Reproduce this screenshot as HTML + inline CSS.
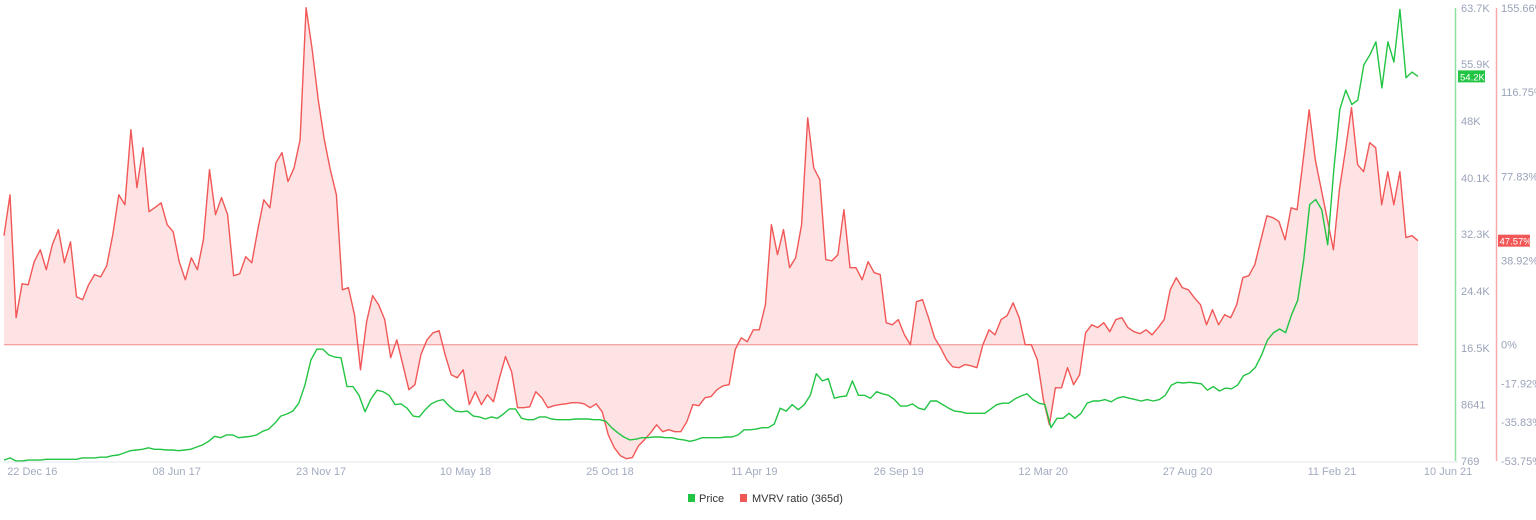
<!DOCTYPE html>
<html><head><meta charset="utf-8"><style>
html,body{margin:0;padding:0;background:#fff;width:1536px;height:520px;overflow:hidden;font-family:"Liberation Sans",sans-serif}
svg text{font-family:"Liberation Sans",sans-serif}
</style></head><body>
<svg id="chart" width="1536" height="520" xmlns="http://www.w3.org/2000/svg">
<g id="grid"></g><g id="plot"></g><g id="axes"></g><g id="legend"></g>
</svg>
<script>
const xTickLabels=["22 Dec 16","08 Jun 17","23 Nov 17","10 May 18","25 Oct 18","11 Apr 19","26 Sep 19","12 Mar 20","27 Aug 20","11 Feb 21","10 Jun 21"];
const xTickWeeks=[4.7,28.7,52.7,76.7,100.7,124.7,148.7,172.7,196.7,220.7,240];
const priceTicks=[769,8641,16500,24400,32300,40100,48000,55900,63700];
const priceTickLabels=["769","8641","16.5K","24.4K","32.3K","40.1K","48K","55.9K","63.7K"];
const mvrvTicks=[-53.75,-35.83,-17.92,0,38.92,77.83,116.75,155.66];
const mvrvTickLabels=["-53.75%","-35.83%","-17.92%","0%","38.92%","77.83%","116.75%","155.66%"];
const mvrv=[50.4,69.3,12.5,28.2,27.7,38.4,43.9,34.7,46.2,53.2,37.9,47.6,22.2,20.8,27.7,32.4,31.4,36.5,50.9,69.3,64.7,99.4,72.6,91.1,61.5,63.5,65.6,55.5,52.2,38.4,30.0,40.2,34.7,48.5,80.9,60.1,68.0,60.1,31.9,32.8,40.7,37.9,53.2,67.0,63.3,84.1,88.8,75.4,81.8,94.8,155.8,136.4,113.3,94.8,80.9,69.3,25.4,26.4,13.9,-11.6,10.6,22.7,18.5,11.6,-6.0,2.3,-9.2,-20.8,-18.5,-4.6,2.3,5.5,6.5,-4.6,-13.9,-15.3,-11.6,-27.7,-21.7,-27.7,-23.1,-26.4,-15.3,-5.5,-12.5,-29.1,-29.1,-28.7,-21.7,-24.5,-29.1,-28.2,-27.7,-27.3,-26.8,-26.8,-27.3,-29.1,-27.3,-31.0,-41.7,-47.6,-51.3,-52.7,-52.2,-46.7,-43.9,-40.7,-37.0,-40.2,-39.3,-40.2,-40.2,-35.6,-27.7,-28.2,-24.5,-24.0,-20.8,-19.0,-18.5,-2.3,3.2,1.4,6.9,6.9,18.5,55.5,41.6,53.2,35.6,40.2,55.5,104.9,81.8,76.3,39.3,38.8,41.6,62.4,35.6,35.6,30.0,38.4,33.3,32.4,10.2,9.2,11.6,4.6,0,19.9,20.8,12.5,3.2,-1.4,-6.9,-10.2,-10.6,-9.2,-9.7,-10.6,0,6.9,4.6,11.6,13.4,19.4,12.5,0,0,-6.9,-25.4,-37.0,-19.9,-19.9,-10.6,-18.5,-13.9,5.5,9.2,7.9,10.2,6.0,11.6,12.5,7.9,6.0,5.1,6.9,4.6,7.9,11.6,25.4,31.0,26.4,25.4,21.7,18.5,9.2,16.2,9.2,13.9,12.5,18.5,31.0,31.9,37.0,48.5,59.6,58.7,56.9,48.5,63.3,62.4,85.5,108.6,85.5,71.7,57.8,43.9,71.7,90.1,109.6,83.2,80.0,93.4,91.1,64.7,80.0,64.7,80.0,49.5,50.4,48.1];
const priceK=[0.9,1.2,0.77,0.77,0.9,0.9,0.9,1.0,1.0,1.0,1.0,1.0,1.0,1.2,1.2,1.2,1.3,1.3,1.5,1.6,1.9,2.2,2.3,2.4,2.6,2.4,2.4,2.3,2.3,2.2,2.3,2.4,2.7,3.0,3.5,4.2,4.0,4.4,4.4,4.0,4.1,4.2,4.4,4.9,5.2,6.0,7.0,7.3,7.7,8.8,11.3,14.8,16.3,16.3,15.5,15.2,15.1,11.1,11.1,9.9,7.6,9.4,10.6,10.4,9.9,8.6,8.7,8.1,7.0,6.9,7.9,8.7,9.1,9.3,8.4,7.7,7.6,7.7,7.0,6.9,6.6,6.9,6.7,7.3,8.0,8.0,6.7,6.5,6.5,6.9,6.9,6.6,6.5,6.5,6.5,6.6,6.6,6.6,6.5,6.5,6.3,5.4,4.7,4.1,3.7,3.8,4.0,4.0,4.1,4.1,4.0,4.0,3.8,3.7,3.5,3.7,4.0,4.0,4.0,4.0,4.1,4.1,4.4,5.1,5.1,5.2,5.4,5.4,5.9,8.1,7.7,8.6,7.9,8.6,9.9,12.9,11.9,12.2,9.5,9.7,9.8,11.9,9.9,9.9,9.5,10.4,10.1,9.9,9.3,8.4,8.4,8.7,8.1,7.9,9.1,9.1,8.6,8.1,7.7,7.6,7.4,7.4,7.4,7.4,8.0,8.6,8.8,8.8,9.4,9.8,10.1,9.3,8.8,8.6,5.4,6.7,6.7,7.4,6.7,7.4,8.8,9.1,9.1,9.3,9.0,9.5,9.7,9.5,9.3,9.1,9.3,9.1,9.3,9.9,11.3,11.7,11.6,11.7,11.6,11.5,10.6,11.1,10.5,10.9,10.8,11.3,12.6,13.0,13.8,15.5,17.6,18.6,19.1,18.6,21.1,23.1,28.7,36.4,37.1,35.7,30.8,41.2,49.6,52.3,50.3,50.9,55.8,57.2,59.0,52.6,59.0,56.2,63.5,54.0,54.8,54.2];
const lastPriceLabel="54.2K", lastMvrvLabel="47.57%";

const NS="http://www.w3.org/2000/svg";
const X0=4,X1=1418,YT=8,YB=461;
const N=Math.max(mvrv.length,priceK.length);
function xs(i,n){return X0+(X1-X0)*i/(n-1);}
function xw(w){return X0+(X1-X0)*w/(N-1);}
function yp(v){return YB-(v-769)/(63700-769)*(YB-YT);}
function ym(v){return YB-(v+53.75)/(155.66+53.75)*(YB-YT);}
function mk(tag,attrs,parent,txt){const e=document.createElementNS(NS,tag);for(const k in attrs)e.setAttribute(k,attrs[k]);if(txt!==undefined)e.textContent=txt;parent.appendChild(e);return e;}
const plot=document.getElementById('plot'),axes=document.getElementById('axes'),leg=document.getElementById('legend');

let xl=mk('line',{x1:X0,x2:X1+40,y1:YB+1,y2:YB+1,stroke:'#e3e6ee','stroke-width':1},axes);



const y0=ym(0);
let mpts=mvrv.map((v,i)=>xs(i,mvrv.length).toFixed(1)+','+ym(v).toFixed(1));
let area=mk('path',{d:'M'+xs(0,mvrv.length)+','+y0+' L'+mpts.join(' L')+' L'+xs(mvrv.length-1,mvrv.length)+','+y0+' Z',fill:'#fde3e3',stroke:'none'},plot);


let zl=mk('line',{x1:X0,x2:X1,y1:y0,y2:y0,stroke:'#f28b8b','stroke-width':1},plot);


let ml=mk('polyline',{points:mpts.join(' '),fill:'none',stroke:'#f25757','stroke-width':1.4,'stroke-linejoin':'round'},plot);


let ppts=priceK.map((v,i)=>xs(i,priceK.length).toFixed(1)+','+yp(v*1000).toFixed(1));
let pl=mk('polyline',{points:ppts.join(' '),fill:'none',stroke:'#22c443','stroke-width':1.4,'stroke-linejoin':'round'},plot);



let ga=mk('line',{x1:1455.5,x2:1455.5,y1:YT,y2:YB,stroke:'#8fe0a0','stroke-width':1.5},axes);


let ra=mk('line',{x1:1496.5,x2:1496.5,y1:YT,y2:YB,stroke:'#f8a9a9','stroke-width':1.5},axes);


priceTicks.forEach((v,i)=>{let t=mk('text',{x:1461,y:yp(v)+4,'font-size':11,fill:'#9aa3b8'},axes,priceTickLabels[i]);

});
mvrvTicks.forEach((v,i)=>{let t=mk('text',{x:1501,y:ym(v)+4,'font-size':11,fill:'#9aa3b8'},axes,mvrvTickLabels[i]);

});
const lp=priceK[priceK.length-1]*1000, lm=mvrv[mvrv.length-1];
let gb=mk('rect',{x:1458,y:yp(lp)-6,width:27,height:12,fill:'#22c443'},axes);


let gt=mk('text',{x:1460,y:yp(lp)+4,'font-size':9.5,fill:'#fff'},axes,lastPriceLabel);


let rb=mk('rect',{x:1498,y:ym(lm)-6,width:32,height:12,fill:'#f25757'},axes);


let rt=mk('text',{x:1499.5,y:ym(lm)+4,'font-size':9.5,fill:'#fff'},axes,lastMvrvLabel);


xTickLabels.forEach((l,i)=>{let t=mk('text',{x:xw(xTickWeeks[i]),y:475,'font-size':11,fill:'#a3abbf','text-anchor':'middle'},axes,l);

});
let g1=mk('g',{},leg);


mk('rect',{x:688,y:494,width:7,height:8,fill:'#22c443'},g1);
mk('text',{x:699,y:502,'font-size':11,fill:'#333'},g1,'Price');
let g2=mk('g',{},leg);


mk('rect',{x:740,y:494,width:7,height:8,fill:'#f25757'},g2);
mk('text',{x:752,y:502,'font-size':11,fill:'#333'},g2,'MVRV ratio (365d)');
</script>
</body></html>
